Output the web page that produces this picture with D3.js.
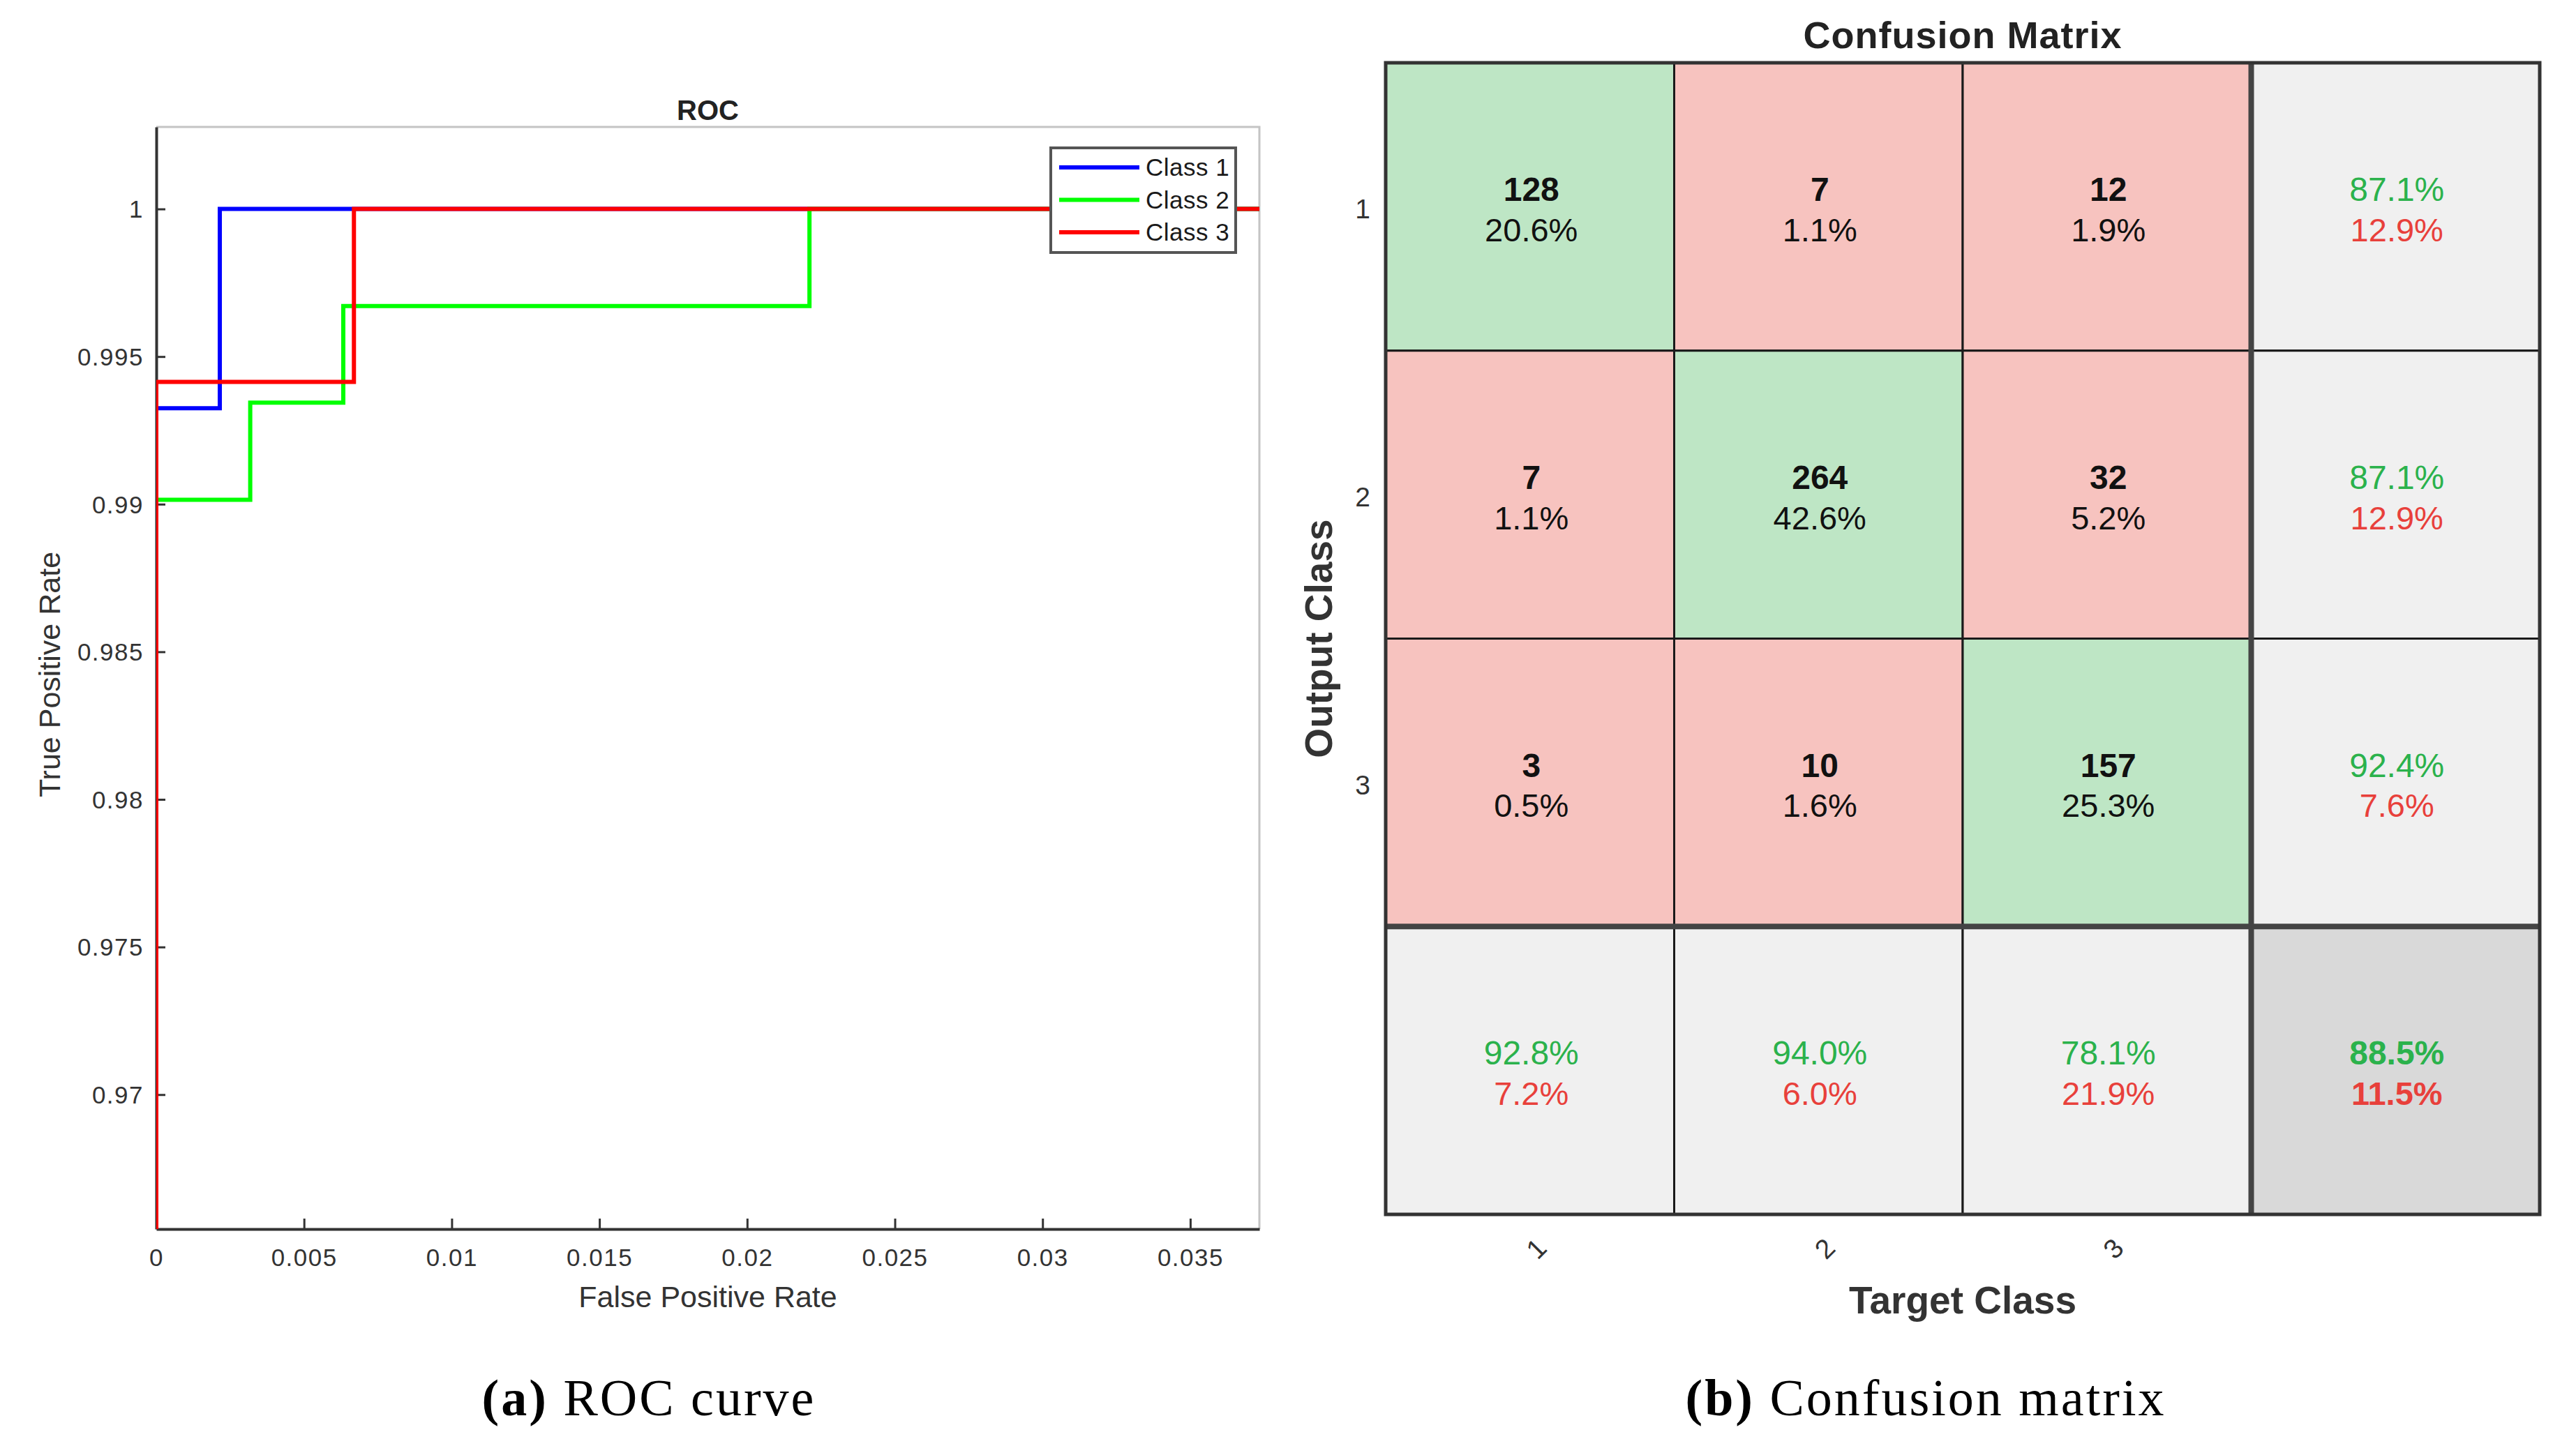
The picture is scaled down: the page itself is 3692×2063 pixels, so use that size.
<!DOCTYPE html>
<html>
<head>
<meta charset="utf-8">
<script src="https://cdn.jsdelivr.net/npm/d3@7"></script>
<style>
  body { margin: 0; background: #fff; }
  text { font-family: "Liberation Sans", Arial, sans-serif; }
</style>
</head>
<body>
<div id="chart"></div>
<script>
// ROC data (fpr, tpr corner points of the step curves)
const classNames = ["Class 1", "Class 2", "Class 3"];
const classColors = ["#0000ff", "#00ff00", "#ff0000"];
const class1Fpr = [0, 0, 0.00215, 1];
const class1Tpr = [0, 0.99325, 1, 1];
const class2Fpr = [0, 0, 0.00318, 0.00633, 0.02211, 1];
const class2Tpr = [0, 0.99015, 0.99344, 0.99671, 1, 1];
const class3Fpr = [0, 0, 0.00669, 1];
const class3Tpr = [0, 0.99414, 1, 1];
const xTicks = [0, 0.005, 0.01, 0.015, 0.02, 0.025, 0.03, 0.035];
const yTicks = [0.97, 0.975, 0.98, 0.985, 0.99, 0.995, 1];

// Confusion matrix data
const targetLabels = ["1", "2", "3"];
const outputLabels = ["1", "2", "3"];
const counts = [[128, 7, 12], [7, 264, 32], [3, 10, 157]];
const countPct = [["20.6%", "1.1%", "1.9%"], ["1.1%", "42.6%", "5.2%"], ["0.5%", "1.6%", "25.3%"]];
const rowCorrect = ["87.1%", "87.1%", "92.4%"];
const rowWrong = ["12.9%", "12.9%", "7.6%"];
const colCorrect = ["92.8%", "94.0%", "78.1%"];
const colWrong = ["7.2%", "6.0%", "21.9%"];
const totalCorrect = "88.5%", totalWrong = "11.5%";

const W = 3692, H = 2063;
const svg = d3.select("#chart").append("svg")
    .attr("width", W).attr("height", H)
    .style("display", "block");
svg.append("rect").attr("width", W).attr("height", H).attr("fill", "#fff");

// ---------------- ROC panel ----------------
const roc = {left: 224, right: 1805, top: 182, bottom: 1762};
const x = d3.scaleLinear().domain([0, 0.03734]).range([roc.left, roc.right]);
const y = d3.scaleLinear().domain([0.965446, 1.002778]).range([roc.bottom, roc.top]);
const fmt = d => String(+d.toFixed(3));

svg.append("defs").append("clipPath").attr("id", "rocClip")
  .append("rect")
    .attr("x", roc.left).attr("y", roc.top)
    .attr("width", roc.right - roc.left).attr("height", roc.bottom - roc.top);

// light top/right box edges
svg.append("path")
    .attr("d", `M${roc.left},${roc.top}H${roc.right}V${roc.bottom}`)
    .attr("fill", "none").attr("stroke", "#c4c4c4").attr("stroke-width", 3);

const xAxis = svg.append("g")
    .attr("transform", `translate(0,${roc.bottom})`)
    .call(d3.axisBottom(x).tickValues(xTicks).tickFormat(fmt).tickSizeInner(-15).tickSizeOuter(0).tickPadding(28));
const yAxis = svg.append("g")
    .attr("transform", `translate(${roc.left},0)`)
    .call(d3.axisLeft(y).tickValues(yTicks).tickFormat(fmt).tickSizeInner(-13).tickSizeOuter(0).tickPadding(18));

[xAxis, yAxis].forEach(a => {
  a.select(".domain").attr("stroke", "#333").attr("stroke-width", 4);
  a.selectAll(".tick line").attr("stroke", "#333").attr("stroke-width", 3);
  a.selectAll(".tick text")
      .attr("fill", "#333")
      .style("font-size", "35px")
      .style("letter-spacing", "1.5px")
      .style("font-family", "'Liberation Sans', Arial, sans-serif");
});
yAxis.selectAll(".tick text").attr("dy", "0.35em");

const line = d3.line().x(d => x(d[0])).y(d => y(d[1])).curve(d3.curveStepAfter);
const curves = [
  d3.zip(class1Fpr, class1Tpr),
  d3.zip(class2Fpr, class2Tpr),
  d3.zip(class3Fpr, class3Tpr)
];
svg.append("g").attr("clip-path", "url(#rocClip)")
  .selectAll("path")
  .data(curves)
  .join("path")
    .attr("d", line)
    .attr("fill", "none")
    .attr("stroke", (d, i) => classColors[i])
    .attr("stroke-width", 6)
    .attr("stroke-linejoin", "miter");

// legend
const legend = svg.append("g").attr("transform", "translate(1506,212)");
legend.append("rect")
    .attr("width", 265).attr("height", 150)
    .attr("fill", "#fff").attr("stroke", "#555").attr("stroke-width", 4);
const legItem = legend.selectAll(".item")
  .data(classNames)
  .join("g")
    .attr("class", "item")
    .attr("transform", (d, i) => `translate(0,${28 + i * 46.5})`);
legItem.append("line")
    .attr("x1", 12).attr("x2", 127)
    .attr("stroke", (d, i) => classColors[i]).attr("stroke-width", 6);
legItem.append("text")
    .attr("x", 136).attr("dy", "0.35em")
    .attr("fill", "#1a1a1a")
    .style("font-size", "35px")
    .style("letter-spacing", "0.5px")
    .text(d => d);

svg.append("text")
    .attr("x", (roc.left + roc.right) / 2).attr("y", 158).attr("dy", "0.35em")
    .attr("text-anchor", "middle").attr("fill", "#222")
    .style("font-size", "40px").style("font-weight", "bold")
    .text("ROC");
svg.append("text")
    .attr("x", (roc.left + roc.right) / 2).attr("y", 1859).attr("dy", "0.35em")
    .attr("text-anchor", "middle").attr("fill", "#333")
    .style("font-size", "43px")
    .text("False Positive Rate");
svg.append("text")
    .attr("transform", `translate(71,${(roc.top + roc.bottom) / 2 - 5}) rotate(-90)`)
    .attr("dy", "0.35em")
    .attr("text-anchor", "middle").attr("fill", "#333")
    .style("font-size", "43px")
    .text("True Positive Rate");

// ---------------- Confusion matrix panel ----------------
const cm = {left: 1986, top: 90, right: 3640, bottom: 1741};
const keys = ["1", "2", "3", "all"];
const cx = d3.scaleBand().domain(keys).range([cm.left, cm.right]);
const cy = d3.scaleBand().domain(keys).range([cm.top, cm.bottom]);

const green = "#bee6c5", red = "#f7c3bf", grey = "#f0f0f0", darkGrey = "#d9d9d9";
const greenText = "#2bb24c", redText = "#e8403b";

const cells = [];
for (let r = 0; r < 3; r++) {
  for (let c = 0; c < 3; c++) {
    cells.push({r: keys[r], c: keys[c], fill: r === c ? green : red,
      top: String(counts[r][c]), bottom: countPct[r][c],
      topFill: "#111", bottomFill: "#111", topBold: true, bottomBold: false});
  }
  cells.push({r: keys[r], c: "all", fill: grey, top: rowCorrect[r], bottom: rowWrong[r],
    topFill: greenText, bottomFill: redText, topBold: false, bottomBold: false});
}
for (let c = 0; c < 3; c++) {
  cells.push({r: "all", c: keys[c], fill: grey, top: colCorrect[c], bottom: colWrong[c],
    topFill: greenText, bottomFill: redText, topBold: false, bottomBold: false});
}
cells.push({r: "all", c: "all", fill: darkGrey, top: totalCorrect, bottom: totalWrong,
  topFill: greenText, bottomFill: redText, topBold: true, bottomBold: true});

const cell = svg.append("g").selectAll("g")
  .data(cells)
  .join("g")
    .attr("transform", d => `translate(${cx(d.c)},${cy(d.r)})`);
cell.append("rect")
    .attr("width", cx.bandwidth()).attr("height", cy.bandwidth())
    .attr("fill", d => d.fill)
    .attr("stroke", "#1a1a1a").attr("stroke-width", 3);
cell.append("text")
    .attr("x", cx.bandwidth() / 2 + 2).attr("y", cy.bandwidth() / 2 - 25).attr("dy", "0.35em")
    .attr("text-anchor", "middle")
    .attr("fill", d => d.topFill)
    .style("font-size", "48px")
    .style("font-weight", d => d.topBold ? "bold" : "normal")
    .text(d => d.top);
cell.append("text")
    .attr("x", cx.bandwidth() / 2 + 2).attr("y", cy.bandwidth() / 2 + 33).attr("dy", "0.35em")
    .attr("text-anchor", "middle")
    .attr("fill", d => d.bottomFill)
    .style("font-size", "47px")
    .style("font-weight", d => d.bottomBold ? "bold" : "normal")
    .text(d => d.bottom);

// thicker separators for the summary row / column and outer frame
svg.append("line")
    .attr("x1", cx("all")).attr("x2", cx("all"))
    .attr("y1", cm.top).attr("y2", cm.bottom)
    .attr("stroke", "#444").attr("stroke-width", 8);
svg.append("line")
    .attr("x1", cm.left).attr("x2", cm.right)
    .attr("y1", cy("all")).attr("y2", cy("all"))
    .attr("stroke", "#444").attr("stroke-width", 8);
svg.append("rect")
    .attr("x", cm.left).attr("y", cm.top)
    .attr("width", cm.right - cm.left).attr("height", cm.bottom - cm.top)
    .attr("fill", "none").attr("stroke", "#333").attr("stroke-width", 5);

// row / column tick labels
svg.append("g").selectAll("text")
  .data(outputLabels)
  .join("text")
    .attr("x", 1953).attr("y", d => cy(d) + cy.bandwidth() / 2 + 3).attr("dy", "0.35em")
    .attr("text-anchor", "middle").attr("fill", "#333")
    .style("font-size", "39px")
    .text(d => d);
svg.append("g").selectAll("text")
  .data(targetLabels)
  .join("text")
    .attr("transform", d => `translate(${cx(d) + cx.bandwidth() / 2 + 9},1790) rotate(-45)`)
    .attr("dy", "0.35em")
    .attr("text-anchor", "middle").attr("fill", "#333")
    .style("font-size", "39px")
    .text(d => d);

svg.append("text")
    .attr("x", (cm.left + cm.right) / 2).attr("y", 50).attr("dy", "0.35em")
    .attr("text-anchor", "middle").attr("fill", "#222")
    .style("font-size", "54px").style("font-weight", "bold")
    .style("letter-spacing", "1px")
    .text("Confusion Matrix");
svg.append("text")
    .attr("x", (cm.left + cm.right) / 2).attr("y", 1864).attr("dy", "0.35em")
    .attr("text-anchor", "middle").attr("fill", "#333")
    .style("font-size", "55px").style("font-weight", "bold")
    .text("Target Class");
svg.append("text")
    .attr("transform", `translate(1890,${(cm.top + cm.bottom) / 2}) rotate(-90)`)
    .attr("dy", "0.35em")
    .attr("text-anchor", "middle").attr("fill", "#333")
    .style("font-size", "55px").style("font-weight", "bold")
    .text("Output Class");

// ---------------- captions ----------------
const captions = [
  {x: 930, tag: "(a)", label: " ROC curve"},
  {x: 2760, tag: "(b)", label: " Confusion matrix"}
];
const cap = svg.append("g").selectAll("text")
  .data(captions)
  .join("text")
    .attr("x", d => d.x).attr("y", 2003).attr("dy", "0.35em")
    .attr("text-anchor", "middle").attr("fill", "#000")
    .style("font-family", "'Liberation Serif', 'Times New Roman', serif")
    .style("font-size", "74px")
    .style("letter-spacing", "3px");
cap.append("tspan").style("font-weight", "bold").text(d => d.tag);
cap.append("tspan").text(d => d.label);
</script>
</body>
</html>
